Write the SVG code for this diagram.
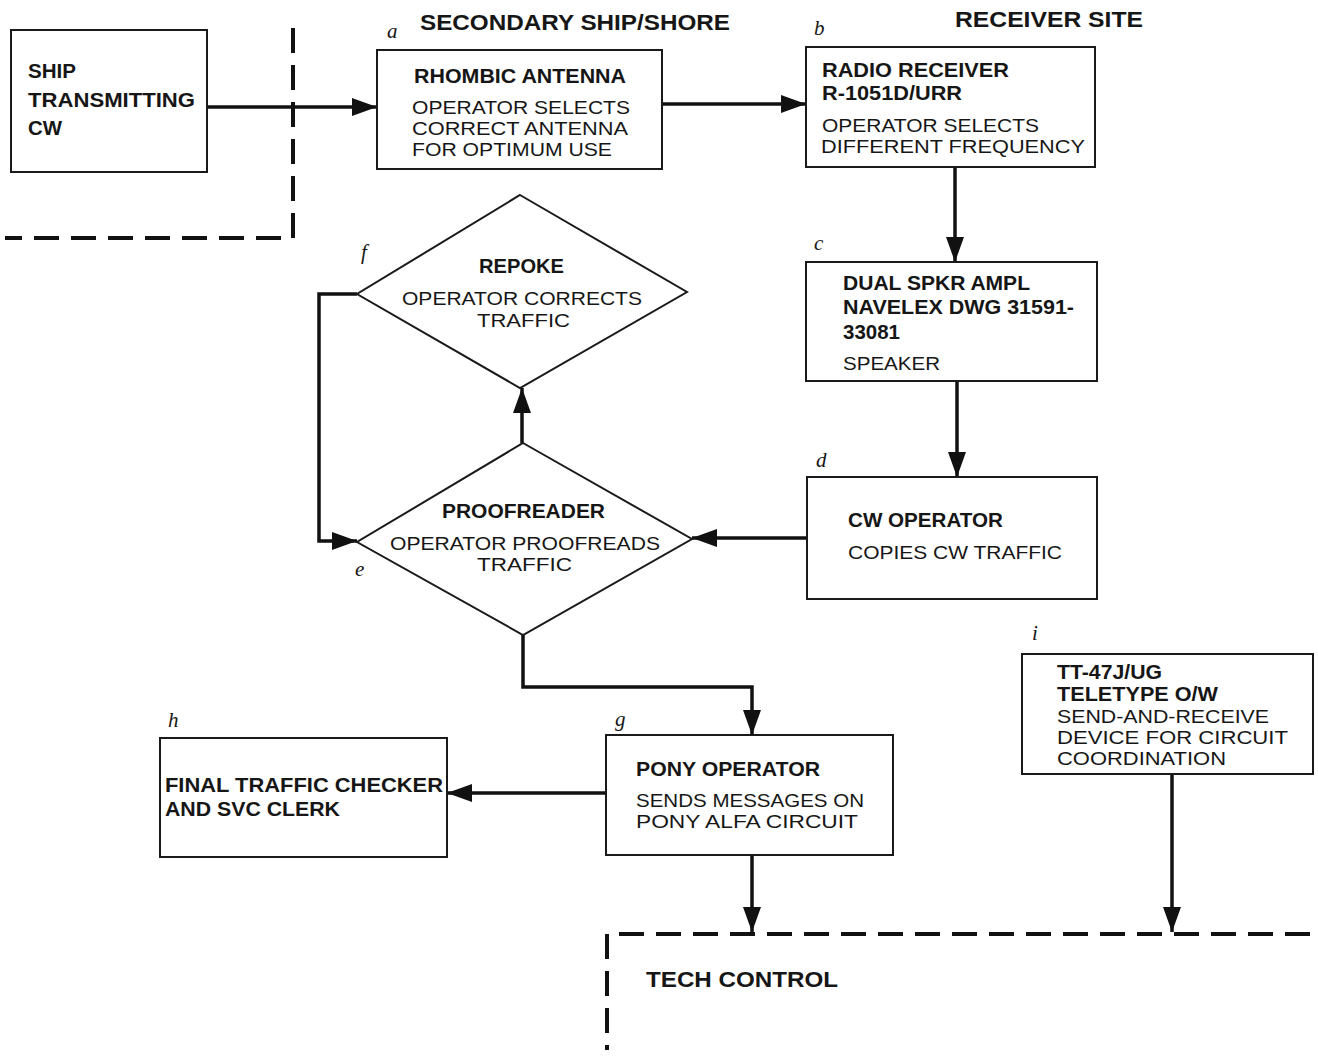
<svg xmlns="http://www.w3.org/2000/svg" width="1318" height="1056" viewBox="0 0 1318 1056">
  <style>
    .box { fill: none; stroke: #1a1a1a; stroke-width: 2; }
    .wire { fill: none; stroke: #111; stroke-width: 3.5; }
    .bound { fill: none; stroke: #111; stroke-width: 4; stroke-dasharray: 25 12; }
    .ttl { font-family: "Liberation Sans", "DejaVu Sans", sans-serif; font-weight: bold; font-size: 21px; fill: #161616; }
    .sub { font-family: "Liberation Sans", "DejaVu Sans", sans-serif; font-size: 19px; fill: #161616; }
    .hdr { font-family: "Liberation Sans", "DejaVu Sans", sans-serif; font-weight: bold; font-size: 22px; fill: #161616; }
    .tag { font-family: "Liberation Serif", "DejaVu Serif", serif; font-style: italic; font-size: 21px; fill: #161616; }
  </style>
  <defs>
    <marker id="head" markerUnits="userSpaceOnUse" markerWidth="26" markerHeight="20" refX="25" refY="9" orient="auto">
      <path d="M0,0 L25,9 L0,18 z" fill="#111"/>
    </marker>
  </defs>
  <rect width="1318" height="1056" fill="#ffffff"/>

  <!-- area boundaries and their headings -->
  <g id="boundaries">
    <path class="bound" d="M293,28 V238 H5"/>
    <path class="bound" d="M1310,934 H607 V1050"/>
    <text class="hdr" x="420" y="30" textLength="310" lengthAdjust="spacingAndGlyphs">SECONDARY SHIP/SHORE</text>
    <text class="hdr" x="955" y="27" textLength="188" lengthAdjust="spacingAndGlyphs">RECEIVER SITE</text>
    <text class="hdr" x="646" y="987" textLength="192" lengthAdjust="spacingAndGlyphs">TECH CONTROL</text>
  </g>

  <!-- connectors -->
  <g id="connectors">
    <path class="wire" d="M207,107 H377" marker-end="url(#head)"/>
    <path class="wire" d="M662,104 H806" marker-end="url(#head)"/>
    <path class="wire" d="M955,167 V262" marker-end="url(#head)"/>
    <path class="wire" d="M957,381 V477" marker-end="url(#head)"/>
    <path class="wire" d="M807,538 H692" marker-end="url(#head)"/>
    <path class="wire" d="M522,443 V388" marker-end="url(#head)"/>
    <path class="wire" d="M357,294 H319 V541 H357" marker-end="url(#head)"/>
    <path class="wire" d="M523,635 V687 H752 V735" marker-end="url(#head)"/>
    <path class="wire" d="M606,793 H447" marker-end="url(#head)"/>
    <path class="wire" d="M752,855 V932" marker-end="url(#head)"/>
    <path class="wire" d="M1172,774 V932" marker-end="url(#head)"/>
  </g>

  <g id="ship">
    <rect class="box" x="11" y="30" width="196" height="142"/>
    <text class="ttl" x="28" y="78" textLength="48" lengthAdjust="spacingAndGlyphs">SHIP</text>
    <text class="ttl" x="28" y="107" textLength="167" lengthAdjust="spacingAndGlyphs">TRANSMITTING</text>
    <text class="ttl" x="28" y="135" textLength="34" lengthAdjust="spacingAndGlyphs">CW</text>
  </g>

  <g id="node-a">
    <text class="tag" x="387" y="38">a</text>
    <rect class="box" x="377" y="50" width="285" height="119"/>
    <text class="ttl" x="414" y="83" textLength="212" lengthAdjust="spacingAndGlyphs">RHOMBIC ANTENNA</text>
    <text class="sub" x="412" y="114" textLength="218" lengthAdjust="spacingAndGlyphs">OPERATOR SELECTS</text>
    <text class="sub" x="412" y="135" textLength="216" lengthAdjust="spacingAndGlyphs">CORRECT ANTENNA</text>
    <text class="sub" x="412" y="156" textLength="200" lengthAdjust="spacingAndGlyphs">FOR OPTIMUM USE</text>
  </g>

  <g id="node-b">
    <text class="tag" x="814" y="35">b</text>
    <rect class="box" x="806" y="47" width="289" height="120"/>
    <text class="ttl" x="822" y="77" textLength="187" lengthAdjust="spacingAndGlyphs">RADIO RECEIVER</text>
    <text class="ttl" x="822" y="100" textLength="140" lengthAdjust="spacingAndGlyphs">R-1051D/URR</text>
    <text class="sub" x="822" y="132" textLength="217" lengthAdjust="spacingAndGlyphs">OPERATOR SELECTS</text>
    <text class="sub" x="821" y="153" textLength="264" lengthAdjust="spacingAndGlyphs">DIFFERENT FREQUENCY</text>
  </g>

  <g id="node-c">
    <text class="tag" x="814" y="250">c</text>
    <rect class="box" x="806" y="262" width="291" height="119"/>
    <text class="ttl" x="843" y="290" textLength="187" lengthAdjust="spacingAndGlyphs">DUAL SPKR AMPL</text>
    <text class="ttl" x="843" y="314" textLength="231" lengthAdjust="spacingAndGlyphs">NAVELEX DWG 31591-</text>
    <text class="ttl" x="843" y="339" textLength="57" lengthAdjust="spacingAndGlyphs">33081</text>
    <text class="sub" x="843" y="370" textLength="97" lengthAdjust="spacingAndGlyphs">SPEAKER</text>
  </g>

  <g id="node-d">
    <text class="tag" x="816" y="467">d</text>
    <rect class="box" x="807" y="477" width="290" height="122"/>
    <text class="ttl" x="848" y="527" textLength="155" lengthAdjust="spacingAndGlyphs">CW OPERATOR</text>
    <text class="sub" x="848" y="559" textLength="214" lengthAdjust="spacingAndGlyphs">COPIES CW TRAFFIC</text>
  </g>

  <g id="node-e">
    <polygon class="box" points="523,443 692,539 523,635 357,542"/>
    <text class="tag" x="355" y="576">e</text>
    <text class="ttl" x="442" y="518" textLength="163" lengthAdjust="spacingAndGlyphs">PROOFREADER</text>
    <text class="sub" x="390" y="550" textLength="270" lengthAdjust="spacingAndGlyphs">OPERATOR PROOFREADS</text>
    <text class="sub" x="477" y="571" textLength="95" lengthAdjust="spacingAndGlyphs">TRAFFIC</text>
  </g>

  <g id="node-f">
    <polygon class="box" points="520,195 687,292 520,388 357,294"/>
    <text class="tag" x="361" y="259">f</text>
    <text class="ttl" x="479" y="273" textLength="85" lengthAdjust="spacingAndGlyphs">REPOKE</text>
    <text class="sub" x="402" y="305" textLength="240" lengthAdjust="spacingAndGlyphs">OPERATOR CORRECTS</text>
    <text class="sub" x="477" y="327" textLength="93" lengthAdjust="spacingAndGlyphs">TRAFFIC</text>
  </g>

  <g id="node-g">
    <text class="tag" x="615" y="726">g</text>
    <rect class="box" x="606" y="735" width="287" height="120"/>
    <text class="ttl" x="636" y="776" textLength="184" lengthAdjust="spacingAndGlyphs">PONY OPERATOR</text>
    <text class="sub" x="636" y="807" textLength="228" lengthAdjust="spacingAndGlyphs">SENDS MESSAGES ON</text>
    <text class="sub" x="636" y="828" textLength="222" lengthAdjust="spacingAndGlyphs">PONY ALFA CIRCUIT</text>
  </g>

  <g id="node-h">
    <text class="tag" x="168" y="727">h</text>
    <rect class="box" x="160" y="738" width="287" height="119"/>
    <text class="ttl" x="165" y="792" textLength="278" lengthAdjust="spacingAndGlyphs">FINAL TRAFFIC CHECKER</text>
    <text class="ttl" x="165" y="816" textLength="175" lengthAdjust="spacingAndGlyphs">AND SVC CLERK</text>
  </g>

  <g id="node-i">
    <text class="tag" x="1032" y="640">i</text>
    <rect class="box" x="1022" y="654" width="291" height="120"/>
    <text class="ttl" x="1057" y="679" textLength="105" lengthAdjust="spacingAndGlyphs">TT-47J/UG</text>
    <text class="ttl" x="1057" y="701" textLength="161" lengthAdjust="spacingAndGlyphs">TELETYPE O/W</text>
    <text class="sub" x="1057" y="723" textLength="212" lengthAdjust="spacingAndGlyphs">SEND-AND-RECEIVE</text>
    <text class="sub" x="1057" y="744" textLength="231" lengthAdjust="spacingAndGlyphs">DEVICE FOR CIRCUIT</text>
    <text class="sub" x="1057" y="765" textLength="169" lengthAdjust="spacingAndGlyphs">COORDINATION</text>
  </g>
</svg>
